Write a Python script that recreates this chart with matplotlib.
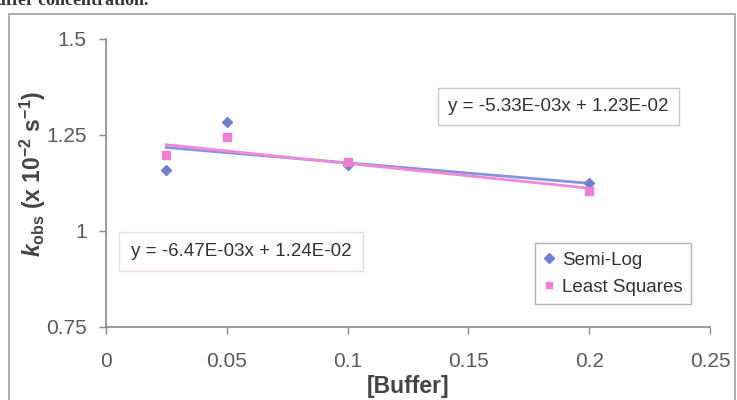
#Recreation of the k_obs vs [Buffer] chart (Excel-style scatter with trendlines)
import numpy as np
import matplotlib
matplotlib.use('Agg')
import matplotlib.pyplot as plt
from matplotlib.patches import Rectangle

plt.rcParams['font.family'] = ['Liberation Sans', 'DejaVu Sans']
plt.rcParams['mathtext.fontset'] = 'custom'
plt.rcParams['mathtext.rm'] = 'Liberation Sans:bold'
plt.rcParams['mathtext.it'] = 'Liberation Sans:bold:italic'
plt.rcParams['mathtext.bf'] = 'Liberation Sans:bold'

#data
buffer_conc = [0.025, 0.05, 0.1, 0.2]
semi_log = [1.158, 1.284, 1.171, 1.123]
least_squares = [1.197, 1.243, 1.180, 1.104]

#trendline coefficients from the equation labels (scaled to 10^-2 units)
semi_log_fit = (-0.533, 1.23)
least_sq_fit = (-0.647, 1.24)
semi_log_eq = 'y = -5.33E-03x + 1.23E-02'
least_sq_eq = 'y = -6.47E-03x + 1.24E-02'

x_ticks = [0, 0.05, 0.1, 0.15, 0.2, 0.25]
y_ticks = [0.75, 1, 1.25, 1.5]
x_tick_labels = ['0', '0.05', '0.1', '0.15', '0.2', '0.25']
y_tick_labels = ['0.75', '1', '1.25', '1.5']

blue = '#6f80cf'
pink = '#ee7fd2'

def main():
	fig = plt.figure(figsize=(7.37, 4.0), dpi=100)
	fig.patch.set_facecolor('white')

	#outer chart border and the clipped caption from the scanned page
	fig.patches.append(Rectangle((9/737, -0.05), 726/737, 1.05 - 14/400, transform=fig.transFigure,
		fill=False, edgecolor='#a0a0a0', linewidth=1.2))
	fig.text(-0.005, 0.998, 'uffer concentration.', family='Liberation Serif', fontsize=13,
		fontweight='bold', color='#333333', va='center', ha='left')

	ax = fig.add_axes([106/737, 1 - 326.7/400, 604/737, 288/400])

	#trendlines over the data range
	xl = np.array([buffer_conc[0], buffer_conc[-1]])
	ax.plot(xl, semi_log_fit[0]*xl + semi_log_fit[1], color='#8595dc', linewidth=2, zorder=2)
	ax.plot(xl, least_sq_fit[0]*xl + least_sq_fit[1], color='#f08ad8', linewidth=2, zorder=3)

	ax.plot(buffer_conc, semi_log, linestyle='none', marker='D', markersize=5.5, color=blue,
		label='Semi-Log', zorder=4)
	ax.plot(buffer_conc, least_squares, linestyle='none', marker='s', markersize=5.5, color=pink,
		label='Least Squares', zorder=4)

	ax.set_xlim(0, 0.25)
	ax.set_ylim(0.75, 1.5)
	ax.set_xticks(x_ticks)
	ax.set_xticklabels(x_tick_labels)
	ax.set_yticks(y_ticks)
	ax.set_yticklabels(y_tick_labels)

	for s in ['top', 'right']:
		ax.spines[s].set_visible(False)
	for s in ['left', 'bottom']:
		ax.spines[s].set_color('#8a8a8a')
		ax.spines[s].set_linewidth(1.2)
	ax.tick_params(axis='both', direction='out', length=5, width=1, color='#8a8a8a',
		labelsize=15, labelcolor='#5a5a5a')
	ax.tick_params(axis='x', pad=13)
	ax.tick_params(axis='y', pad=9)

	#axis titles placed where the reference has them
	fig.text(408/737, 1 - 386/400, '[Buffer]', fontsize=16.5, fontweight='bold', color='#444444',
		ha='center', va='center')
	fig.text(33/737, 1 - 174/400, r'$k_{\mathrm{obs}}$ (x 10$^{\mathrm{-2}}$ s$^{\mathrm{-1}}$)',
		fontsize=16.5, fontweight='bold', color='#444444', rotation=90, ha='center', va='center')

	#equation boxes
	ax.text(0.749, 0.765, semi_log_eq, transform=ax.transAxes, ha='center', va='center',
		fontsize=13.5, color='#333333',
		bbox=dict(boxstyle='square,pad=0.55', facecolor='white', edgecolor='#c8c8d0', linewidth=1))
	ax.text(0.2235, 0.261, least_sq_eq, transform=ax.transAxes, ha='center', va='center',
		fontsize=13.5, color='#333333',
		bbox=dict(boxstyle='square,pad=0.6', facecolor='white', edgecolor='#f0d8e4', linewidth=1))

	leg = ax.legend(loc='upper left', bbox_to_anchor=(0.710, 0.2906), frameon=True, fancybox=False,
		edgecolor='#a0a0a0', fontsize=13.5, handlelength=0.6, handletextpad=0.4, borderaxespad=0,
		borderpad=0.45, labelspacing=0.55, markerscale=0.9)
	for t in leg.get_texts():
		t.set_color('#333333')
	leg.get_frame().set_linewidth(1)

	fig.savefig('out.png', dpi=100)

main()
